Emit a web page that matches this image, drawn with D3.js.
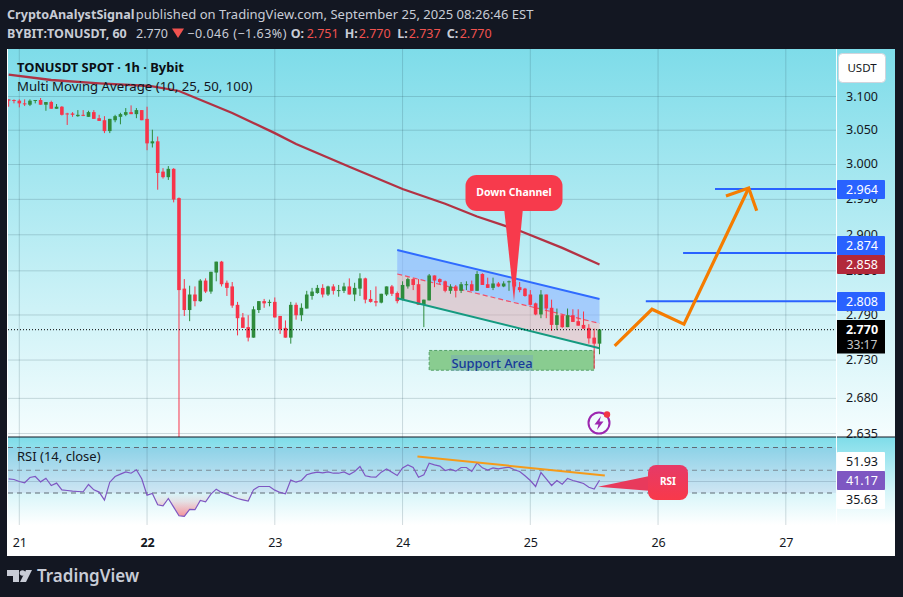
<!DOCTYPE html>
<html><head><meta charset="utf-8">
<script src="https://d3js.org/d3.v7.min.js"></script>
<style>html,body{margin:0;padding:0;background:#131722}svg{display:block}text{font-family:"Noto Sans",sans-serif}</style>
</head><body><svg id="c" width="903" height="597"></svg>
<script>
const firstHour=-2;
const opens=[3.095,3.094,3.093,3.089,3.087,3.093,3.094,3.087,3.091,3.081,3.084,3.074,3.074,3.070,3.072,3.069,3.076,3.067,3.064,3.048,3.064,3.069,3.072,3.076,3.073,3.079,3.066,3.030,3.033,2.989,2.981,2.993,2.951,2.825,2.796,2.817,2.808,2.836,2.821,2.847,2.862,2.833,2.828,2.803,2.786,2.773,2.759,2.796,2.808,2.806,2.807,2.788,2.772,2.759,2.803,2.789,2.798,2.815,2.819,2.826,2.817,2.828,2.822,2.822,2.828,2.817,2.825,2.839,2.811,2.808,2.806,2.817,2.828,2.819,2.810,2.828,2.838,2.831,2.803,2.809,2.843,2.838,2.835,2.822,2.828,2.822,2.830,2.831,2.822,2.845,2.831,2.826,2.832,2.828,2.834,2.834,2.827,2.825,2.817,2.805,2.790,2.817,2.799,2.776,2.789,2.773,2.789,2.781,2.776,2.772,2.759,2.751];
const highs=[3.095,3.095,3.095,3.095,3.095,3.094,3.097,3.091,3.093,3.088,3.085,3.075,3.076,3.079,3.079,3.078,3.079,3.072,3.070,3.066,3.072,3.075,3.082,3.086,3.082,3.079,3.084,3.050,3.040,2.994,2.997,2.994,2.952,2.838,2.829,2.828,2.838,2.839,2.848,2.862,2.863,2.836,2.834,2.807,2.792,2.789,2.801,2.808,2.811,2.810,2.813,2.788,2.782,2.807,2.806,2.805,2.822,2.826,2.830,2.831,2.829,2.831,2.830,2.833,2.839,2.833,2.846,2.840,2.823,2.828,2.818,2.828,2.830,2.821,2.835,2.840,2.839,2.838,2.810,2.845,2.843,2.839,2.836,2.831,2.830,2.834,2.835,2.836,2.849,2.846,2.840,2.840,2.834,2.835,2.836,2.836,2.834,2.826,2.823,2.806,2.823,2.817,2.810,2.798,2.790,2.798,2.797,2.797,2.794,2.777,2.771,2.770];
const lows=[3.084,3.089,3.083,3.085,3.085,3.089,3.087,3.078,3.081,3.081,3.071,3.057,3.069,3.069,3.070,3.069,3.066,3.063,3.045,3.045,3.061,3.058,3.070,3.073,3.067,3.064,3.020,3.024,2.963,2.979,2.977,2.945,2.600,2.788,2.781,2.801,2.807,2.819,2.818,2.835,2.828,2.815,2.799,2.762,2.772,2.754,2.759,2.792,2.799,2.801,2.786,2.764,2.759,2.751,2.783,2.781,2.798,2.810,2.818,2.813,2.815,2.817,2.814,2.819,2.817,2.808,2.815,2.805,2.806,2.801,2.805,2.815,2.815,2.805,2.809,2.825,2.823,2.803,2.773,2.809,2.827,2.831,2.820,2.818,2.813,2.819,2.823,2.822,2.822,2.830,2.826,2.823,2.827,2.827,2.822,2.823,2.820,2.814,2.802,2.789,2.785,2.785,2.768,2.769,2.772,2.773,2.780,2.775,2.771,2.751,2.718,2.737];
const closes=[3.093,3.093,3.089,3.088,3.093,3.094,3.087,3.091,3.081,3.084,3.072,3.073,3.072,3.072,3.071,3.076,3.066,3.063,3.048,3.066,3.070,3.073,3.076,3.073,3.079,3.064,3.030,3.033,2.987,2.981,2.993,2.949,2.823,2.796,2.817,2.808,2.836,2.821,2.848,2.862,2.831,2.826,2.802,2.785,2.772,2.759,2.797,2.808,2.805,2.807,2.786,2.770,2.759,2.803,2.789,2.799,2.817,2.821,2.826,2.817,2.828,2.822,2.823,2.828,2.817,2.826,2.839,2.810,2.807,2.806,2.818,2.828,2.818,2.808,2.830,2.838,2.830,2.803,2.810,2.843,2.836,2.834,2.822,2.828,2.822,2.831,2.831,2.822,2.845,2.830,2.826,2.832,2.828,2.832,2.835,2.828,2.823,2.815,2.803,2.790,2.817,2.798,2.776,2.789,2.773,2.789,2.780,2.775,2.771,2.758,2.751,2.770];
const rsiValues=[42.5,41.9,40.1,39.0,43.6,44.5,39.8,43.0,36.6,38.7,32.8,32.2,31.6,31.3,31.1,37.5,32.8,30.8,23.7,39.5,44.5,46.6,48.6,47.4,50.4,42.5,28.1,29.6,19.6,18.8,25.2,17.6,10.0,9.4,15.6,15.3,23.4,22.3,29.0,33.4,30.5,29.0,27.0,25.2,24.0,22.9,32.8,35.7,35.7,35.7,32.5,30.5,29.3,41.3,39.5,41.0,46.0,47.4,48.3,47.7,48.6,47.4,47.4,48.6,46.3,48.9,53.3,45.1,44.2,43.9,48.3,51.2,48.3,45.4,52.1,54.7,52.4,43.9,46.0,56.2,54.7,53.6,49.8,50.9,49.2,52.4,52.4,48.9,56.5,52.1,50.1,52.1,51.2,52.1,52.7,50.4,48.9,45.1,41.0,35.7,48.0,42.5,36.6,41.0,37.8,42.8,41.0,39.8,38.4,35.1,33.4,41.17];
const maHours=[-2,6,15,24.5,30,40,48,52,62,72,80,86,94,102,109];
const maPrices=[3.132,3.124,3.119,3.115,3.1075,3.0747,3.045,3.029,2.996,2.964,2.943,2.925,2.905,2.881,2.858];
const priceTicks=[3.1,3.05,3.0,2.95,2.9,2.85,2.79,2.73,2.68,2.635];
const dayHours=[0,24,48,72,96,120,144];
const dayLabels=["21","22","23","24","25","26","27"];
const rsiBands=[70,50,30];
const channelHours=[71,109];
const channelTop=[2.878,2.811];
const channelMid=[2.845,2.778];
const channelBottom=[2.812,2.745];
const supportHours=[77,108];
const supportPrices=[2.742,2.716];
const arrowHours=[111.85,118.86,124.87,137.03];
const arrowPrices=[2.748,2.797,2.777,2.9655];
const headHours=[132.76,137.03,138.53];
const headPrices=[2.954,2.9655,2.933];
const targetPrices=[2.964,2.874,2.808];
const targetStartHours=[130.7,124.7,117.7];
const rsiTrendHours=[74.8,110];
const rsiTrendValues=[62.1,45.4];

const svg=d3.select("#c");
const L=8,R=836,F=895,T=49,B=437,RB=525,BOT=556;
const x=d3.scaleLinear().domain([0,96]).range([19.3,530.3]);
const y=d3.scaleLog().domain([3.1,2.635]).range([96,433]);
const r=d3.scaleLinear().domain([70,30]).range([447.5,493]);
const hours=opens.map((_,i)=>firstHour+i);
const defs=svg.append("defs");
function grad(id,stops){const g=defs.append("linearGradient").attr("id",id).attr("x1",0).attr("x2",0).attr("y1",0).attr("y2",1);
 stops.forEach(s=>g.append("stop").attr("offset",s[0]).attr("stop-color",s[1]).attr("stop-opacity",s[2]===undefined?1:s[2]));return g;}
grad("bgMain",[[0,"#7edce9"],[1,"#f5fdfe"]]);
grad("bgRsi",[[0,"#7edce9"],[0.62,"#d6f5f9"],[1,"#ffffff"]]);
grad("rsiRed",[[0,"#f23645",0],[0.35,"#f23645",0.12],[1,"#f23645",0.55]]).attr("gradientUnits","userSpaceOnUse").attr("x1",0).attr("x2",0).attr("y1",493).attr("y2",517);
grad("rsiCall",[[0,"#e63a68"],[1,"#f8394a"]]);
defs.append("clipPath").attr("id","clipMain").append("rect").attr("x",L).attr("y",T).attr("width",R-L).attr("height",B-T);
defs.append("clipPath").attr("id","clipBelow").append("rect").attr("x",L).attr("y",r(30)).attr("width",R-L).attr("height",RB-r(30));

svg.append("rect").attr("x",0).attr("y",0).attr("width",903).attr("height",597).attr("fill","#131722");
svg.append("rect").attr("x",L-1).attr("y",T).attr("width",F-L+1).attr("height",BOT-T).attr("fill","#fff");
svg.append("rect").attr("x",L).attr("y",T).attr("width",F-L).attr("height",B-T).attr("fill","url(#bgMain)");
svg.append("rect").attr("x",L).attr("y",B).attr("width",F-L).attr("height",RB-B).attr("fill","url(#bgRsi)");

const gridCol="#2a4a5a", gridOp=0.2;
const grid=svg.append("g").attr("stroke",gridCol).attr("stroke-opacity",gridOp);
grid.selectAll("line.h").data(priceTicks).join("line").attr("x1",L).attr("x2",R).attr("y1",d=>y(d)+.5).attr("y2",d=>y(d)+.5);
grid.selectAll("line.v").data(dayHours).join("line").attr("x1",d=>x(d)).attr("x2",d=>x(d)).attr("y1",T).attr("y2",B);
grid.selectAll("line.w").data(dayHours).join("line").attr("x1",d=>x(d)).attr("x2",d=>x(d)).attr("y1",B).attr("y2",RB);
grid.append("line").attr("x1",L).attr("x2",R).attr("y1",481.5).attr("y2",481.5);

// channel
const main=svg.append("g").attr("clip-path","url(#clipMain)");
const band=d3.area().x(d=>x(d[0])).y0(d=>y(d[2])).y1(d=>y(d[1]));
const zip=(a,b)=>channelHours.map((h,i)=>[h,a[i],b[i]]);
main.append("path").attr("d",band(zip(channelTop,channelMid))).attr("fill","#8ab4ff").attr("fill-opacity",.62);
main.append("path").attr("d",band(zip(channelMid,channelBottom))).attr("fill","#f2a0a8").attr("fill-opacity",.42);
const ln=d3.line().x(d=>x(d[0])).y(d=>y(d[1]));
const seg=a=>ln(channelHours.map((h,i)=>[h,a[i]]));
main.append("path").attr("d",seg(channelMid)).attr("fill","none").attr("stroke","#f2506a").attr("stroke-width",1.2).attr("stroke-dasharray","5 3");

// support
main.append("rect").attr("x",x(supportHours[0])).attr("width",x(supportHours[1])-x(supportHours[0])).attr("y",y(supportPrices[0])).attr("height",y(supportPrices[1])-y(supportPrices[0]))
 .attr("fill","#89cc90").attr("stroke","#55a068").attr("stroke-dasharray","3 2");
main.append("rect").attr("x",451).attr("y",355).attr("width",82).attr("height",16).attr("fill","#6f9fc8").attr("fill-opacity",.35);
main.append("text").attr("x",492).attr("y",368).attr("text-anchor","middle").attr("font-size",12.9).attr("font-weight",500).attr("fill","#17399a").text("Support Area");

// candles
const up=i=>closes[i]>=opens[i];
const col=i=>up(i)?"#2e8b3c":"#f7344a";
main.selectAll("line.wick").data(hours).join("line").attr("x1",h=>x(h)).attr("x2",h=>x(h))
 .attr("y1",(h,i)=>y(highs[i])).attr("y2",(h,i)=>y(lows[i])).attr("stroke",(h,i)=>col(i)).attr("stroke-width",1);
main.selectAll("rect.body").data(hours).join("rect").attr("x",h=>x(h)-1.8).attr("width",3.6)
 .attr("y",(h,i)=>y(Math.max(opens[i],closes[i]))).attr("height",(h,i)=>Math.max(1,Math.abs(y(opens[i])-y(closes[i])))).attr("fill",(h,i)=>col(i));

// channel lines
main.append("path").attr("d",seg(channelTop)).attr("fill","none").attr("stroke","#2f6bff").attr("stroke-width",2);
main.append("path").attr("d",seg(channelBottom)).attr("fill","none").attr("stroke","#159a80").attr("stroke-width",2);

// MA
main.append("path").attr("d",ln(maHours.map((h,i)=>[h,maPrices[i]]))).attr("fill","none").attr("stroke","#b2283a").attr("stroke-width",2.3).attr("stroke-opacity",.95);

// last price
svg.append("line").attr("x1",L).attr("x2",R).attr("y1",y(2.77)+.3).attr("y2",y(2.77)+.3).attr("stroke","#000").attr("stroke-dasharray","1 2");

// targets
svg.selectAll("line.t").data(targetPrices).join("line").attr("x1",(d,i)=>x(targetStartHours[i])).attr("x2",R).attr("y1",d=>y(d)).attr("y2",d=>y(d)).attr("stroke","#2962ff").attr("stroke-width",2);

// arrow
const arrowStyle=p=>p.attr("fill","none").attr("stroke","#f57c00").attr("stroke-width",3.2).attr("stroke-linejoin","miter");
arrowStyle(svg.append("path").attr("d",ln(arrowHours.map((h,i)=>[h,arrowPrices[i]]))));
arrowStyle(svg.append("path").attr("d",ln(headHours.map((h,i)=>[h,headPrices[i]]))));

// down channel callout
svg.append("path").attr("d","M514 301L504 208L523 208Z").attr("fill","#f73a4c");
svg.append("rect").attr("x",465.5).attr("y",175).attr("width",97).attr("height",36).attr("rx",11).attr("fill","#f73a4c");
svg.append("text").attr("x",514).attr("y",196).attr("text-anchor","middle").attr("font-size",10.5).attr("font-weight",700).attr("fill","#fff").text("Down Channel");

// icon
const ic=svg.append("g");
ic.append("circle").attr("cx",599).attr("cy",423).attr("r",10.5).attr("fill","none").attr("stroke","#9c27b0").attr("stroke-width",2);
ic.append("path").attr("d","M601 416L594.5 424.5L598.5 424.5L597 430L603.5 421.5L599.5 421.5Z").attr("fill","#9c27b0");
ic.append("circle").attr("cx",607).attr("cy",414.5).attr("r",3.2).attr("fill","#f23645");

// legends
svg.append("text").attr("x",17).attr("y",72).attr("font-size",12.9).attr("font-weight",700).attr("fill","#0b0e14").text("TONUSDT SPOT · 1h · Bybit");
svg.append("text").attr("x",17).attr("y",91).attr("font-size",13.2).attr("fill","#131722").text("Multi Moving Average (10, 25, 50, 100)");

// RSI
svg.append("rect").attr("x",L).attr("width",R-L).attr("y",r(70)).attr("height",r(30)-r(70)).attr("fill","#7e57c2").attr("fill-opacity",.1);
svg.selectAll("line.b").data(rsiBands).join("line").attr("x1",L).attr("x2",R).attr("y1",d=>r(d)).attr("y2",d=>r(d)).attr("stroke",(d,i)=>i==1?"#7c8a96":"#5f6a74").attr("stroke-dasharray","5 4");
const rsiPts=hours.map((h,i)=>[h,rsiValues[i]]);
svg.append("path").attr("clip-path","url(#clipBelow)").attr("d",d3.area().x(d=>x(d[0])).y0(r(30)).y1(d=>r(d[1]))(rsiPts)).attr("fill","url(#rsiRed)");
svg.append("path").attr("d",d3.line().x(d=>x(d[0])).y(d=>r(d[1]))(rsiPts)).attr("fill","none").attr("stroke","#7e57c2").attr("stroke-width",1.2);
svg.append("path").attr("d",d3.line().x((d,i)=>x(d)).y((d,i)=>r(rsiTrendValues[i]))(rsiTrendHours)).attr("fill","none").attr("stroke","#f59a1a").attr("stroke-width",2);
svg.append("text").attr("x",17).attr("y",461).attr("font-size",13).attr("fill","#131722").text("RSI (14, close)");
svg.append("path").attr("d","M598 486.7L652 475.5L652 491Z").attr("fill","#e83a5c");
svg.append("rect").attr("x",648).attr("y",465).attr("width",40).attr("height",35).attr("rx",8).attr("fill","url(#rsiCall)");
svg.append("text").attr("x",668).attr("y",485).attr("text-anchor","middle").attr("font-size",10).attr("font-weight",700).attr("fill","#fff").text("RSI");

svg.append("line").attr("x1",L).attr("x2",F).attr("y1",B).attr("y2",B).attr("stroke","#131722").attr("stroke-width",1.2);
svg.append("line").attr("x1",R+.5).attr("x2",R+.5).attr("y1",T).attr("y2",BOT).attr("stroke","#fff").attr("stroke-opacity",.9);

// axes
const ya=svg.append("g").attr("transform",`translate(${R},0)`).call(d3.axisRight(y).tickValues(priceTicks).tickFormat(d3.format(".3f")).tickSize(0).tickPadding(10));
ya.select(".domain").remove();
ya.selectAll("text").attr("font-size",12.5).attr("fill","#131722").attr("style",'font-family:"Noto Sans",sans-serif');
const xa=svg.append("g").attr("transform",`translate(0,${RB+13})`).call(d3.axisBottom(x).tickValues(dayHours).tickFormat((d,i)=>dayLabels[i]).tickSize(0).tickPadding(0));
xa.select(".domain").remove();
xa.selectAll("text").attr("font-size",12.5).attr("fill","#131722").attr("font-weight",(d,i)=>i==1?700:400).attr("style",'font-family:"Noto Sans",sans-serif');

// price labels
function tag(ty,h,bg,txt,fg,fw){svg.append("rect").attr("x",837).attr("y",ty).attr("width",48).attr("height",h).attr("fill",bg).attr("rx",1);
 svg.append("text").attr("x",862).attr("y",ty+h/2+4.5).attr("text-anchor","middle").attr("font-size",12.5).attr("font-weight",fw||400).attr("fill",fg).text(txt);}
tag(180,19,"#2962ff","2.964","#fff");
tag(236,19,"#2962ff","2.874","#fff");
tag(255,19,"#b2283a","2.858","#fff");
tag(292,19,"#2962ff","2.808","#fff");
svg.append("rect").attr("x",837).attr("y",320).attr("width",48).attr("height",33.5).attr("fill","#000");
svg.append("text").attr("x",862).attr("y",334).attr("text-anchor","middle").attr("font-size",12.5).attr("font-weight",700).attr("fill","#fff").text("2.770");
svg.append("text").attr("x",862).attr("y",349).attr("text-anchor","middle").attr("font-size",12).attr("fill","#c8c8c8").text("33:17");
tag(452,19,"#ffffff","51.93","#131722");
tag(471,19,"#7e57c2","41.17","#fff");
tag(490,19,"#ffffff","35.63","#131722");

// USDT button
svg.append("rect").attr("x",838.5).attr("y",53.5).attr("width",47).attr("height",29).attr("rx",4).attr("fill","#fff").attr("stroke","#d1d4dc");
svg.append("text").attr("x",862).attr("y",72).attr("text-anchor","middle").attr("font-size",11.5).attr("fill","#131722").text("USDT");

// header
const hc="#c8ccd6", hr="#f0524f";
const ht=(tx,ty,s,o={})=>svg.append("text").attr("x",tx).attr("y",ty).attr("font-size",o.fs||12.5).attr("font-weight",o.b?700:400).attr("fill",o.c||hc).attr("letter-spacing",o.ls||0).text(s);
ht(7,19,"CryptoAnalystSignal",{b:1,fs:12.6});
ht(135.7,19,"published on TradingView.com, September 25, 2025 08:26:46 EST",{fs:13,ls:.03});
ht(7,38,"BYBIT:TONUSDT, 60",{b:1});
ht(136,38,"2.770");
svg.append("path").attr("d","M172 28.5L184 28.5L178 38Z").attr("fill",hr);
ht(187.3,38,"−0.046 (−1.63%)",{ls:.5});
[["O:",290.7,"2.751",306.7],["H:",344.7,"2.770",358.7],["L:",397.3,"2.737",408.7],["C:",446.7,"2.770",459.7]].forEach(p=>{ht(p[1],38,p[0],{b:1});ht(p[3],38,p[2],{c:hr});});

// logo
svg.append("path").attr("d","M7 570H19V582H13V576H7Z").attr("fill",hc);
svg.append("circle").attr("cx",22.5).attr("cy",573).attr("r",2.8).attr("fill",hc);
svg.append("path").attr("d","M26 570H32L26 582H20Z").attr("fill",hc);
svg.append("text").attr("x",37).attr("y",582).attr("font-size",17).attr("font-weight",600).attr("fill",hc).text("TradingView");
</script></body></html>
